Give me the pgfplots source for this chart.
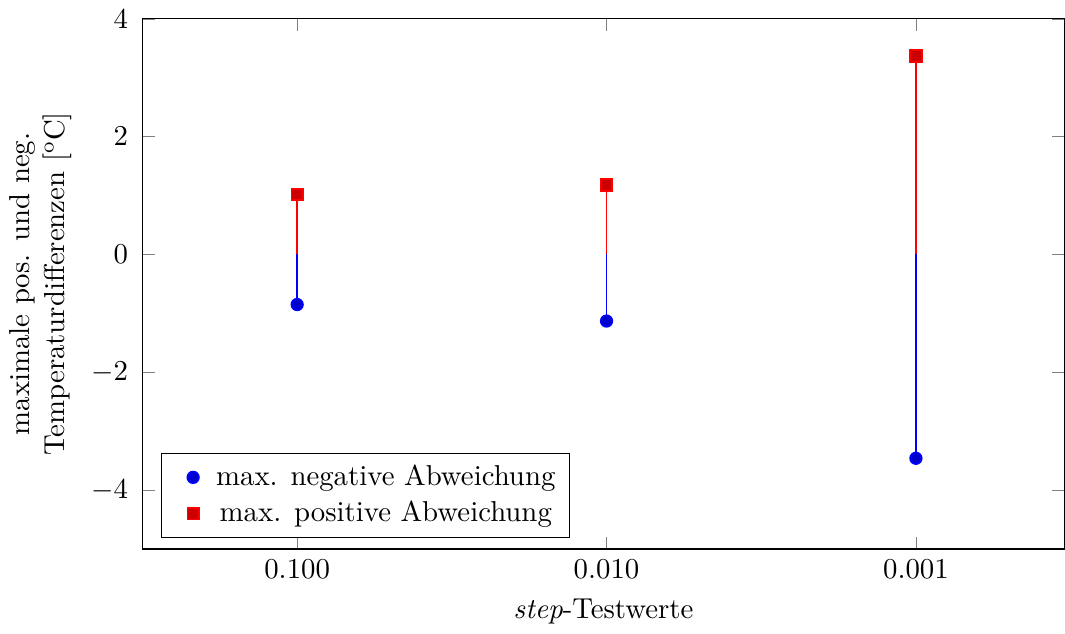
\documentclass[border=0pt]{standalone}
\usepackage{pgfplots}
\pgfplotsset{compat=1.18}
\begin{document}
\begin{tikzpicture}
\begin{axis}[
  scale only axis,
  width=320pt, height=184pt,
  xmin=-0.5, xmax=2.48,
  ymin=-5, ymax=4,
  xtick={0,1,2},
  xticklabels={0.100,0.010,0.001},
  ytick={-4,-2,0,2,4},
  yticklabel style={xshift=-1.5pt},
  xlabel={\textit{step}-Testwerte},
  ylabel={maximale pos. und neg.\\Temperaturdifferenzen [\textsuperscript{o}C]},
  ylabel style={align=center},
  legend style={at={(0.02,0.02)},anchor=south west,
    /tikz/every odd column/.append style={column sep=-2pt}},
  legend image code/.code={%
    \draw[mark repeat=2,mark phase=2,#1] plot coordinates {(0cm,0cm) (0.27cm,0cm) (0.54cm,0cm)};},
]
\addplot+[ycomb, draw=blue, line width=0.6pt] coordinates {(0,-0.85) (1,-1.13) (2,-3.46)};
\addlegendentry{max. negative Abweichung}
\addplot+[ycomb, draw=red, line width=0.6pt] coordinates {(0,1.02) (1,1.18) (2,3.37)};
\addlegendentry{max. positive Abweichung}
\end{axis}
\end{tikzpicture}
\end{document}
